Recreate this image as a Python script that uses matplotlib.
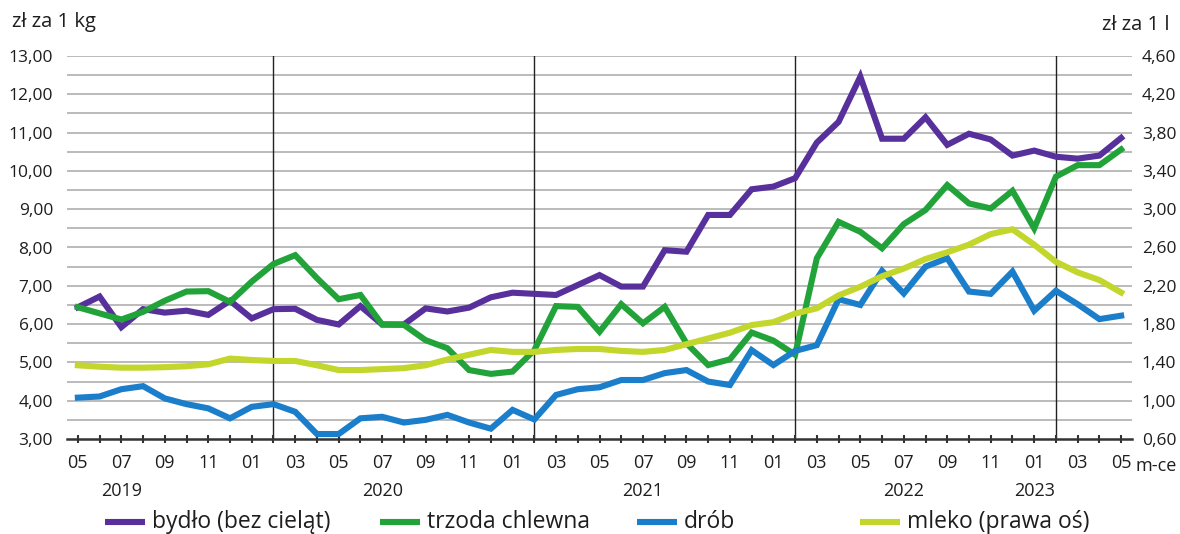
import matplotlib
matplotlib.use("Agg")
import matplotlib.pyplot as plt
from matplotlib.lines import Line2D
from matplotlib.ticker import FuncFormatter, MultipleLocator, FixedLocator

plt.rcParams['font.family'] = ['Open Sans', 'DejaVu Sans']

month_labels = ["05", "06", "07", "08", "09", "10", "11", "12",
                "01", "02", "03", "04", "05", "06", "07", "08", "09", "10", "11", "12",
                "01", "02", "03", "04", "05", "06", "07", "08", "09", "10", "11", "12",
                "01", "02", "03", "04", "05", "06", "07", "08", "09", "10", "11", "12",
                "01", "02", "03", "04", "05"]
year_labels = ["2019", "2020", "2021", "2022", "2023"]
year_label_pos = [2, 14, 26, 38, 44]
year_separators = [9, 21, 33, 45]
right_ticks = [0.6, 1.0, 1.4, 1.8, 2.2, 2.6, 3.0, 3.4, 3.8, 4.2, 4.6]

bydlo = [6.44, 6.72, 5.92, 6.39, 6.30, 6.35, 6.24, 6.61, 6.15, 6.39,
         6.40, 6.11, 5.99, 6.47, 5.99, 5.99, 6.41, 6.33, 6.43, 6.70,
         6.82, 6.79, 6.76, 7.02, 7.28, 6.98, 6.98, 7.93, 7.89, 8.85,
         8.85, 9.52, 9.59, 9.81, 10.74, 11.28, 12.46, 10.84, 10.84, 11.40,
         10.68, 10.97, 10.82, 10.40, 10.53, 10.37, 10.32, 10.40, 10.86]
trzoda = [6.44, 6.28, 6.12, 6.32, 6.61, 6.85, 6.86, 6.58, 7.11, 7.57,
          7.80, 7.20, 6.65, 6.76, 5.99, 5.98, 5.58, 5.37, 4.80, 4.70,
          4.76, 5.32, 6.47, 6.45, 5.80, 6.52, 6.02, 6.45, 5.50, 4.93,
          5.08, 5.78, 5.57, 5.20, 7.72, 8.67, 8.41, 7.98, 8.61, 8.98,
          9.63, 9.15, 9.02, 9.48, 8.50, 9.85, 10.15, 10.15, 10.56]
drob = [4.08, 4.11, 4.30, 4.38, 4.06, 3.91, 3.80, 3.54, 3.84, 3.91,
        3.71, 3.13, 3.13, 3.54, 3.58, 3.43, 3.50, 3.63, 3.43, 3.27,
        3.76, 3.51, 4.15, 4.30, 4.35, 4.54, 4.54, 4.72, 4.80, 4.50,
        4.41, 5.32, 4.93, 5.30, 5.45, 6.65, 6.50, 7.39, 6.80, 7.50,
        7.72, 6.85, 6.79, 7.37, 6.35, 6.87, 6.52, 6.13, 6.22]
mleko = [1.37, 1.355, 1.345, 1.345, 1.35, 1.36, 1.38, 1.44, 1.425, 1.415,
         1.415, 1.37, 1.32, 1.32, 1.33, 1.34, 1.37, 1.43, 1.48, 1.53,
         1.51, 1.51, 1.53, 1.54, 1.54, 1.52, 1.51, 1.53, 1.59, 1.65,
         1.71, 1.79, 1.82, 1.91, 1.965, 2.10, 2.19, 2.30, 2.38, 2.48,
         2.55, 2.63, 2.74, 2.79, 2.63, 2.45, 2.34, 2.26, 2.13]

series_names = ["bydło (bez cieląt)", "trzoda chlewna", "drób", "mleko (prawa oś)"]
colors = ["#58309c", "#22a33a", "#1b7ecb", "#c2d62c"]
text_color = "#1e1e1e"

x = list(range(len(month_labels)))

W, H = 1180, 534
fig = plt.figure(figsize=(W / 100, H / 100), dpi=100)
ax = fig.add_axes([67 / W, (H - 439) / H, 1065 / W, 383 / H])
ax2 = ax.twinx()

ax.set_xlim(-0.5, 48.5)
ax.set_ylim(3, 13)
ax2.set_ylim(0.6, 4.6)

# grid
ax.yaxis.set_major_locator(MultipleLocator(1))
for v in [3 + 0.5 * k for k in range(1, 21)]:
    ax.axhline(v, color="#b5b5b5", lw=1.3, zorder=0)
for s in year_separators:
    ax.axvline(s, color="#222222", lw=1.0, zorder=1)

lw = 4.4
ax.plot(x, bydlo, color=colors[0], lw=lw, zorder=3, solid_joinstyle="miter")
ax.plot(x, trzoda, color=colors[1], lw=lw, zorder=4, solid_joinstyle="miter")
ax.plot(x, drob, color=colors[2], lw=lw, zorder=5, solid_joinstyle="miter")
ax2.plot(x, mleko, color=colors[3], lw=lw, zorder=3, solid_joinstyle="miter")

for a in (ax, ax2):
    for sp in ["top", "left", "right"]:
        a.spines[sp].set_visible(False)
ax2.spines["bottom"].set_visible(False)
ax.spines["bottom"].set_color("#333333")
ax.spines["bottom"].set_linewidth(1.8)
ax.spines["bottom"].set_zorder(6)

fs = 13
comma = lambda v, p: f"{v:.2f}".replace(".", ",")
ax.yaxis.set_major_formatter(FuncFormatter(comma))
ax.tick_params(axis="y", which="both", length=0, pad=10, labelsize=12.5, labelcolor=text_color)
ax2.yaxis.set_major_locator(FixedLocator(right_ticks))
ax2.yaxis.set_major_formatter(FuncFormatter(comma))
ax2.tick_params(axis="y", length=0, pad=7, labelsize=12.5, labelcolor=text_color)

ax.set_xticks(x)
ax.set_xticklabels([lab if i % 2 == 0 else "" for i, lab in enumerate(month_labels)])
ax.tick_params(axis="x", direction="inout", length=6, width=1.5, color="#333333",
               pad=8, labelsize=fs, labelcolor=text_color)

for lab, pos in zip(year_labels, year_label_pos):
    ax.text(pos, -0.135, lab, transform=ax.get_xaxis_transform(), ha="center",
            va="center", fontsize=fs, color=text_color)
ax.text(48.65, -0.07, "m-ce", transform=ax.get_xaxis_transform(), ha="left",
        va="center", fontsize=fs, color=text_color)

fig.text(12 / W, 1 - 22 / H, "zł za 1 kg", ha="left", va="center", fontsize=14.5, color=text_color)
fig.text(1170 / W, 1 - 25 / H, "zł za 1 l", ha="right", va="center", fontsize=14.5, color=text_color)

# legend
leg_x = [105, 380, 637, 860]
leg_y = 1 - 522 / H
for name, c, lx in zip(series_names, colors, leg_x):
    fig.add_artist(Line2D([lx / W, (lx + 40) / W], [leg_y, leg_y], color=c, lw=lw,
                          transform=fig.transFigure, solid_capstyle="butt"))
    fig.text((lx + 47) / W, leg_y, name, ha="left", va="center", fontsize=16.5, color=text_color)

fig.savefig("out.png", dpi=100)
